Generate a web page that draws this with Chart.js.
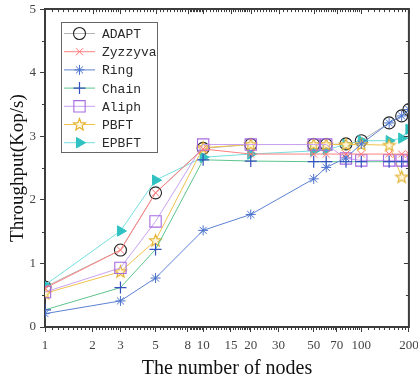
<!DOCTYPE html>
<html>
<head>
<meta charset="utf-8">
<script src="https://cdn.jsdelivr.net/npm/chart.js@4/dist/chart.umd.min.js"></script>
<style>
  html, body { margin: 0; padding: 0; background: #fff; }
  #wrap { width: 418px; height: 379px; }
</style>
</head>
<body>
<div id="wrap"><canvas id="myChart"></canvas></div>
<script>
// x values (number of nodes) and throughput per protocol
const nodes   = [1, 3, 5, 10, 20, 50, 60, 80, 100, 150, 180, 200];
const adapt   = [0.63, 1.21, 2.11, 2.81, 2.87, 2.87, 2.87, 2.88, 2.93, 3.21, 3.32, 3.42];
const zyzzyva = [0.61, 1.21, 2.11, 2.80, 2.72, 2.72, 2.72, 2.72, 2.72, 2.72, 2.72, 2.72];
const ring    = [0.21, 0.41, 0.77, 1.52, 1.77, 2.33, 2.51, 2.66, 2.88, 3.21, 3.32, 3.42];
const chain   = [0.27, 0.62, 1.22, 2.63, 2.61, 2.60, 2.60, 2.60, 2.60, 2.60, 2.60, 2.60];
const aliph   = [0.55, 0.93, 1.66, 2.87, 2.87, 2.87, 2.87, 2.65, 2.62, 2.62, 2.62, 2.62];
const pbft    = [0.53, 0.87, 1.36, 2.82, 2.87, 2.87, 2.87, 2.87, 2.87, 2.86, 2.36, null];
const epbft   = [0.66, 1.51, 2.31, 2.67, 2.72, 2.77, 2.79, 2.87, 2.93, 2.93, 2.97, 3.11];

const xTicks = [1, 2, 3, 5, 8, 10, 15, 20, 30, 50, 70, 100, 200];
const yTicks = [0, 1, 2, 3, 4, 5];

const axisColor = '#3c3c3c';
const labelColor = '#444';

// little 5-point star for PBFT
function makeStar() {
  const c = document.createElement('canvas');
  c.width = 15; c.height = 15;
  const g = c.getContext('2d');
  g.beginPath();
  for (let i = 0; i < 10; i++) {
    const r = i % 2 === 0 ? 6.3 : 2.7;
    const a = -Math.PI / 2 + i * Math.PI / 5;
    const px = 7.5 + r * Math.cos(a), py = 7.8 + r * Math.sin(a);
    if (i === 0) g.moveTo(px, py); else g.lineTo(px, py);
  }
  g.closePath();
  g.fillStyle = '#fff6dc';
  g.fill();
  g.strokeStyle = '#e2b02c';
  g.lineWidth = 1.1;
  g.stroke();
  return c;
}
const starImg = makeStar();

function pts(arr) {
  return nodes.map((n, i) => ({ x: n, y: arr[i] }));
}

const datasets = [
  { label: 'ADAPT', data: pts(adapt), borderColor: '#b4b4b4', pointStyle: 'circle', pointRadius: 6,
    pointBorderColor: '#222', pointBackgroundColor: 'rgba(0,0,0,0)', pointBorderWidth: 1.1, order: 10 },
  { label: 'Zyzzyva', data: pts(zyzzyva), borderColor: '#ff8080', pointStyle: 'crossRot', pointRadius: 5,
    pointBorderColor: '#ff7474', pointBackgroundColor: 'rgba(0,0,0,0)', pointBorderWidth: 1 },
  { label: 'Ring', data: pts(ring), borderColor: '#5c82d2', pointStyle: 'star', pointRadius: 5,
    pointBorderColor: '#4a72cc', pointBackgroundColor: 'rgba(0,0,0,0)', pointBorderWidth: 1 },
  { label: 'Chain', data: pts(chain), borderColor: '#5ec48e', pointStyle: 'cross', pointRadius: 6,
    pointBorderColor: '#3450bc', pointBackgroundColor: 'rgba(0,0,0,0)', pointBorderWidth: 1.2 },
  { label: 'Aliph', data: pts(aliph), borderColor: '#c9a2f2', pointStyle: 'rect', pointRadius: 8,
    pointBorderColor: '#a86ae2', pointBackgroundColor: 'rgba(0,0,0,0)', pointBorderWidth: 1.1 },
  { label: 'PBFT', data: pts(pbft), borderColor: '#f0c24a', pointStyle: starImg, pointRadius: 6,
    pointBorderColor: '#e2b02c', pointBackgroundColor: '#fff6dc', pointBorderWidth: 1 },
  { label: 'EPBFT', data: pts(epbft), borderColor: '#74dede', pointStyle: 'triangle', pointRotation: 90, pointRadius: 6,
    pointBorderColor: '#30c2c2', pointBackgroundColor: '#30c2c2', pointBorderWidth: 1 }
];
datasets.forEach(ds => { ds.borderWidth = 1; ds.fill = false; ds.tension = 0; });

// legend box drawn inside the plot (top-left)
const legendBox = {
  id: 'legendBox',
  afterDraw(chart) {
    const ctx = chart.ctx;
    ctx.save();
    ctx.fillStyle = '#fff';
    ctx.fillRect(61.5, 22.5, 96, 130);
    ctx.strokeStyle = '#666';
    ctx.lineWidth = 1;
    ctx.strokeRect(61.5, 22.5, 96, 130);
    chart.data.datasets.forEach((ds, i) => {
      const y = 33.5 + i * 18.2;
      ctx.strokeStyle = ds.borderColor;
      ctx.lineWidth = 1;
      ctx.beginPath(); ctx.moveTo(64, y); ctx.lineTo(95, y); ctx.stroke();
      ctx.strokeStyle = ds.pointBorderColor;
      ctx.fillStyle = ds.pointBackgroundColor;
      ctx.lineWidth = ds.pointBorderWidth;
      Chart.helpers.drawPoint(ctx, {
        pointStyle: ds.pointStyle, radius: ds.pointRadius, rotation: ds.pointRotation || 0,
        borderWidth: ds.pointBorderWidth
      }, 79.5, y);
      ctx.fillStyle = '#2a2a2a';
      ctx.font = '13px "Liberation Mono"';
      ctx.textBaseline = 'middle';
      ctx.fillText(ds.label, 102, y + 1);
    });
    ctx.restore();
  }
};

// box frame + minor ticks (mirrored on top and right)
const frame = {
  id: 'frame',
  afterDraw(chart) {
    const { ctx, chartArea: a, scales } = chart;
    const xs = scales.x, ys = scales.y;
    ctx.save();
    ctx.strokeStyle = axisColor;
    ctx.lineWidth = 1;
    ctx.beginPath();
    // minor x ticks: 9 between each pair of labelled ticks
    for (let i = 0; i < xTicks.length - 1; i++) {
      const lo = xTicks[i], hi = xTicks[i + 1];
      for (let k = 1; k < 10; k++) {
        const px = Math.round(xs.getPixelForValue(lo + (hi - lo) * k / 10)) + 0.5;
        ctx.moveTo(px, a.bottom); ctx.lineTo(px, a.bottom + 3);
        ctx.moveTo(px, a.top); ctx.lineTo(px, a.top + 3);
      }
    }
    xTicks.forEach(v => {
      const px = Math.round(xs.getPixelForValue(v)) + 0.5;
      ctx.moveTo(px, a.top); ctx.lineTo(px, a.top + 5);
    });
    // y ticks: minor at halves, mirrored inward on right
    for (let v = 0; v <= 5; v += 0.5) {
      const py = Math.round(ys.getPixelForValue(v)) + 0.5;
      const major = Number.isInteger(v);
      if (!major) { ctx.moveTo(a.left, py); ctx.lineTo(a.left - 3, py); }
      ctx.moveTo(a.right, py); ctx.lineTo(a.right - (major ? 5 : 3), py);
    }
    ctx.stroke();
    ctx.lineWidth = 2;
    ctx.beginPath();
    ctx.moveTo(a.left, a.top); ctx.lineTo(a.right, a.top);
    ctx.moveTo(a.right, a.top - 1); ctx.lineTo(a.right, a.bottom + 1);
    ctx.stroke();
    ctx.restore();
  }
};

window.addEventListener('DOMContentLoaded', () => {
  const ctx = document.getElementById('myChart');
  new Chart(ctx, {
    type: 'line',
    data: { datasets: datasets },
    options: {
      responsive: true,
      maintainAspectRatio: false,
      animation: false,
      layout: { padding: { top: 8, right: 7, left: 0, bottom: 0 } },
      plugins: { legend: { display: false }, tooltip: { enabled: false } },
      scales: {
        x: {
          type: 'logarithmic',
          min: 1, max: 200,
          afterBuildTicks: axis => { axis.ticks = xTicks.map(v => ({ value: v })); },
          afterFit: scale => { scale.height = 52; scale.paddingLeft = 0; scale.paddingRight = 0; },
          border: { color: axisColor, width: 2 },
          grid: { drawOnChartArea: false, tickLength: 5, tickColor: axisColor, tickWidth: 1 },
          ticks: {
            autoSkip: false, maxRotation: 0, padding: 6,
            color: labelColor, font: { family: '"Liberation Serif"', size: 13 },
            callback: v => String(v)
          },
          title: {
            display: true, text: 'The number of nodes', color: '#111',
            font: { family: '"Liberation Serif"', size: 20, lineHeight: 1.0 }, padding: { top: 0, bottom: 0 }
          }
        },
        y: {
          min: 0, max: 5,
          afterBuildTicks: axis => { axis.ticks = yTicks.map(v => ({ value: v })); },
          afterFit: scale => { scale.width = 45; scale.paddingTop = 0; scale.paddingBottom = 0; },
          border: { color: axisColor, width: 2 },
          grid: { drawOnChartArea: false, tickLength: 5, tickColor: axisColor, tickWidth: 1 },
          ticks: {
            padding: 4, color: labelColor,
            font: { family: '"Liberation Serif"', size: 13 }
          },
          title: {
            display: true, text: 'Throughput(Kop/s)', color: '#111',
            font: { family: '"Liberation Serif"', size: 19 }, padding: { top: 7, bottom: 0 }
          }
        }
      }
    },
    plugins: [frame, legendBox]
  });
});
</script>
</body>
</html>
